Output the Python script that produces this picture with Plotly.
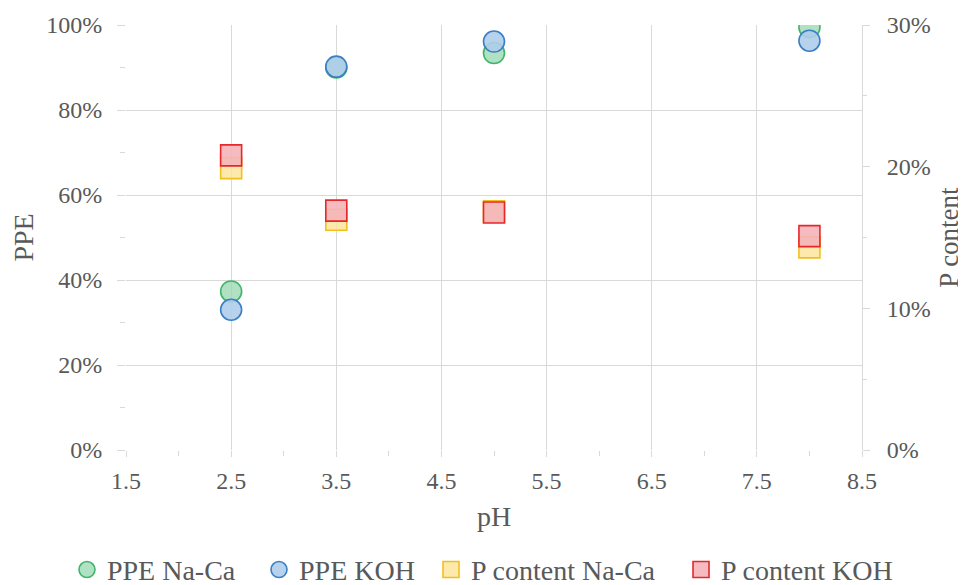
import plotly.graph_objects as go

ph = [2.5, 3.5, 5.0, 8.0]
ppe_naca = [0.373, 0.90, 0.934, 0.995]
ppe_koh = [0.330, 0.902, 0.961, 0.963]
p_naca = [0.199, 0.1625, 0.1685, 0.143]
p_koh = [0.208, 0.169, 0.1676, 0.151]

font = "Liberation Serif, Times New Roman, serif"
grid = "#d9d9d9"
fig = go.Figure()

def add(y, name, color, fill, symbol, axis, leg):
    fig.add_trace(go.Scatter(
        x=ph, y=y, name=name, mode="markers", yaxis=axis, legend=leg,
        marker=dict(symbol=symbol, size=21, color=fill,
                    line=dict(color=color, width=1.6)),
    ))

add(ppe_naca, "PPE Na-Ca", "#3fb46a", "rgba(150,215,175,0.75)", "circle", "y", "legend")
add(ppe_koh, "PPE KOH", "#3b7fc4", "rgba(175,205,235,0.9)", "circle", "y", "legend2")
add(p_naca, "P content Na-Ca", "#f2c01e", "rgba(252,228,150,0.8)", "square", "y2", "legend3")
add(p_koh, "P content KOH", "#e8272b", "rgba(244,180,185,0.9)", "square", "y2", "legend4")

def leg(x):
    return dict(orientation="h", x=x, xanchor="left", y=-0.282, yanchor="middle",
                font=dict(size=28, family=font), itemwidth=30,
                bgcolor="rgba(0,0,0,0)")

fig.update_layout(
    width=966, height=585,
    margin=dict(l=118, r=112, t=17, b=143, autoexpand=False),
    plot_bgcolor="white", paper_bgcolor="white",
    font=dict(family=font, size=24, color="#595959"),
    showlegend=True,
    legend=leg(-0.0802), legend2=leg(0.1807),
    legend3=leg(0.4144), legend4=leg(0.7541),
    xaxis=dict(range=[1.5, 8.5], dtick=1, tick0=1.5, showgrid=True,
               gridcolor=grid, zeroline=False, showline=False,
               tickformat=".1f", ticks="outside", ticklen=6, tickcolor=grid,
               ticklabelstandoff=3,
               minor=dict(dtick=1, tick0=2.0, ticks="outside", ticklen=5,
                          tickcolor=grid, showgrid=False),
               title=dict(text="pH", font=dict(size=28), standoff=13)),
    yaxis=dict(range=[0, 1], dtick=0.2, tickformat=".0%", showgrid=True,
               gridcolor=grid, zeroline=False, showline=False,
               ticks="outside", ticklen=8, tickcolor=grid,
               ticklabelstandoff=10,
               minor=dict(dtick=0.1, ticks="outside", ticklen=5,
                          tickcolor=grid, showgrid=False),
               title=dict(text="PPE", font=dict(size=28), standoff=9)),
    yaxis2=dict(range=[0, 0.3], dtick=0.1, tickformat=".0%", overlaying="y",
                side="right", showgrid=False, zeroline=False,
                showline=True, linecolor=grid, linewidth=1,
                ticks="outside", ticklen=7, tickcolor=grid,
                tickprefix="\u2002",
                minor=dict(dtick=0.05, ticks="outside", ticklen=4,
                           tickcolor=grid),
                title=dict(text="P content", font=dict(size=27), standoff=9)),
)

fig.write_html("out.html")
